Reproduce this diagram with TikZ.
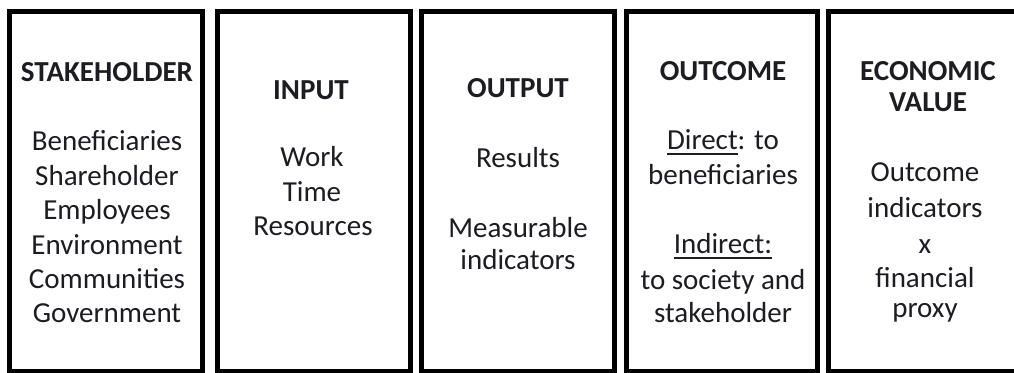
\documentclass[tikz,border=0pt]{standalone}
\usepackage{fontspec}
\setmainfont{Carlito}
\definecolor{ink}{RGB}{28,28,34}
% underline drawn as a heavier rule under a word
\newcommand\heavyul[1]{\setbox0\hbox{#1}\rlap{\rule[-6pt]{\wd0}{2.4pt}}\box0}
\tikzset{
  column/.style={draw=black, line width=5pt, rectangle, minimum height=360pt, inner sep=0pt},
  head/.style={anchor=base, inner sep=0pt, text=ink, font=\fontsize{29}{34}\selectfont\bfseries},
  item/.style={anchor=base, inner sep=0pt, text=ink, font=\fontsize{29}{34}\selectfont},
}
\begin{document}
\begin{tikzpicture}[x=1pt, y=-1pt]
  \clip (0,0) rectangle (1014,372);
  \fill[white] (0,0) rectangle (1014,372);

  % the five columns
  \node[column, minimum width=192.5pt] (c1) at (105.75,191.5) {};
  \node[column, minimum width=193pt]   (c2) at (314,191.5) {};
  \node[column, minimum width=193pt]   (c3) at (518,191.5) {};
  \node[column, minimum width=191.5pt] (c4) at (721.75,191.5) {};
  \node[column, minimum width=193pt]   (c5) at (924.5,191.5) {};

  % stakeholder
  \node[head] (h1) at (107,81.7) {STAKEHOLDER};
  \node[item] (s1) at (107,150.7) {Beneficiaries};
  \node[item] (s2) at (107,185) {Shareholder};
  \node[item] (s3) at (107,219.5) {Employees};
  \node[item] (s4) at (107,254) {Environment};
  \node[item] (s5) at (107,288) {Communities};
  \node[item] (s6) at (107,322.5) {Government};

  % input
  \node[head] (h2) at (311,99.3) {INPUT};
  \node[item] (i1) at (312,166.7) {Work};
  \node[item] (i2) at (312,201.5) {Time};
  \node[item] (i3) at (313,235) {Resources};

  % output
  \node[head] (h3) at (518,97.3) {OUTPUT};
  \node[item] (o1) at (518,167.7) {Results};
  \node[item] (o2) at (518,237.3) {Measurable};
  \node[item] (o3) at (518,269.5) {indicators};

  % outcome
  \node[head] (h4) at (723,80) {OUTCOME};
  \node[item] (u1) at (723,149) {\heavyul{Direct}: to};
  \node[item] (u2) at (723,184.3) {beneficiaries};
  \node[item] (u3) at (723,253.3) {\heavyul{Indirect:}};
  \node[item] (u4) at (723,289.3) {to society and};
  \node[item] (u5) at (723,322.3) {stakeholder};

  % economic value
  \node[head] (h5) at (928,80) {ECONOMIC};
  \node[head] (h6) at (928,111.7) {VALUE};
  \node[item] (e1) at (925,181.7) {Outcome};
  \node[item] (e2) at (925,217.3) {indicators};
  \node[item] (e3) at (925,253.3) {x};
  \node[item] (e4) at (925,287.3) {financial};
  \node[item] (e5) at (925,317) {proxy};
\end{tikzpicture}
\end{document}
